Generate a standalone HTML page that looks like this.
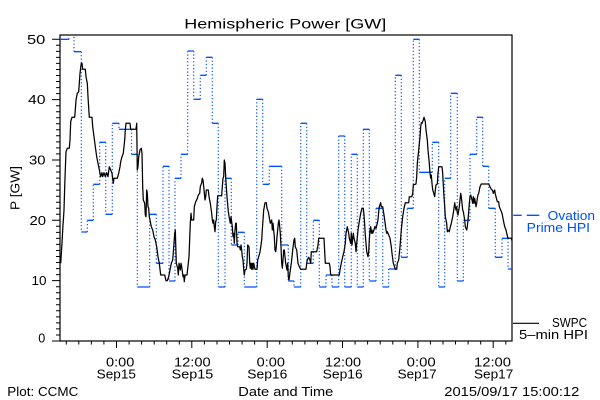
<!DOCTYPE html>
<html>
<head>
<meta charset="utf-8">
<style>
html,body{margin:0;padding:0;background:#fff;}
svg{display:block;}
text{font-family:"Liberation Sans",sans-serif;}
</style>
</head>
<body>
<svg width="600" height="400" viewBox="0 0 600 400" xmlns="http://www.w3.org/2000/svg">
<rect x="0" y="0" width="600" height="400" fill="#fff"/>
<defs>
<clipPath id="pc"><rect x="60" y="35" width="452" height="306"/></clipPath>
</defs>

<!-- Title -->
<text x="184.3" y="28.5" font-size="14" textLength="202" lengthAdjust="spacingAndGlyphs" fill="#000">Hemispheric Power [GW]</text>

<!-- Frame -->
<rect x="60" y="35" width="452" height="306" fill="none" stroke="#000" stroke-width="1.2"/>

<!-- Y ticks -->
<g stroke="#000" stroke-width="1">
<path d="M56 341H60M56 335H60M56 328.9H60M56 322.9H60M56 316.9H60M56 310.8H60M56 304.8H60M56 298.8H60M56 292.7H60M56 286.7H60M52 280.6H60
M56 274.6H60M56 268.6H60M56 262.5H60M56 256.5H60M56 250.5H60M56 244.4H60M56 238.4H60M56 232.4H60M56 226.3H60M52 220.3H60
M56 214.3H60M56 208.2H60M56 202.2H60M56 196.2H60M56 190.1H60M56 184.1H60M56 178.1H60M56 172H60M56 166H60M52 160H60
M56 153.9H60M56 147.9H60M56 141.9H60M56 135.8H60M56 129.8H60M56 123.8H60M56 117.7H60M56 111.7H60M56 105.7H60M52 99.6H60
M56 93.6H60M56 87.6H60M56 81.5H60M56 75.5H60M56 69.5H60M56 63.4H60M56 57.4H60M56 51.4H60M56 45.3H60M52 39.3H60M52 341H60"/>
</g>

<!-- Y labels -->
<g font-size="12.5" fill="#000">
<text x="27" y="43.8" textLength="18.3" lengthAdjust="spacingAndGlyphs">50</text>
<text x="28" y="104.1" textLength="17.5" lengthAdjust="spacingAndGlyphs">40</text>
<text x="29" y="164.5" textLength="16.5" lengthAdjust="spacingAndGlyphs">30</text>
<text x="29.5" y="224.8" textLength="16.5" lengthAdjust="spacingAndGlyphs">20</text>
<text x="31.5" y="285.1" textLength="15" lengthAdjust="spacingAndGlyphs">10</text>
<text x="38.3" y="342.5" textLength="7" lengthAdjust="spacingAndGlyphs">0</text>
</g>
<text transform="translate(19.5,188) rotate(-90)" text-anchor="middle" font-size="12.5" textLength="44" lengthAdjust="spacingAndGlyphs" fill="#000">P [GW]</text>

<!-- X ticks -->
<g stroke="#000" stroke-width="1">
<path d="M66.3 341V344.5M78.8 341V344.5M91.4 341V344.5M103.9 341V344.5M116.5 341V348
M129.1 341V344.5M141.6 341V344.5M154.2 341V344.5M166.7 341V344.5M179.3 341V344.5M191.8 341V348
M204.4 341V344.5M217 341V344.5M229.5 341V344.5M242.1 341V344.5M254.6 341V344.5M267.2 341V348
M279.7 341V344.5M292.3 341V344.5M304.9 341V344.5M317.4 341V344.5M330 341V344.5M342.5 341V348
M355.1 341V344.5M367.6 341V344.5M380.2 341V344.5M392.8 341V344.5M405.3 341V344.5M417.9 341V348
M430.4 341V344.5M443 341V344.5M455.5 341V344.5M468.1 341V344.5M480.7 341V344.5M493.2 341V348
M505.8 341V344.5"/>
</g>

<!-- X labels -->
<g font-size="12.5" fill="#000" lengthAdjust="spacingAndGlyphs">
<text x="106" y="366.7" textLength="28.3" lengthAdjust="spacingAndGlyphs">0:00</text>
<text x="96.7" y="378.5" textLength="39.3" lengthAdjust="spacingAndGlyphs">Sep15</text>
<text x="174" y="366.7" textLength="36.7" lengthAdjust="spacingAndGlyphs">12:00</text>
<text x="171.7" y="378.5" textLength="41.6" lengthAdjust="spacingAndGlyphs">Sep15</text>
<text x="256.7" y="366.7" textLength="28.3" lengthAdjust="spacingAndGlyphs">0:00</text>
<text x="247.3" y="378.5" textLength="40" lengthAdjust="spacingAndGlyphs">Sep16</text>
<text x="325" y="366.7" textLength="36" lengthAdjust="spacingAndGlyphs">12:00</text>
<text x="322.7" y="378.5" textLength="40" lengthAdjust="spacingAndGlyphs">Sep16</text>
<text x="406.7" y="366.7" textLength="29" lengthAdjust="spacingAndGlyphs">0:00</text>
<text x="397.7" y="378.5" textLength="39" lengthAdjust="spacingAndGlyphs">Sep17</text>
<text x="474" y="366.7" textLength="37" lengthAdjust="spacingAndGlyphs">12:00</text>
<text x="474" y="378.5" textLength="39.3" lengthAdjust="spacingAndGlyphs">Sep17</text>
<text x="7.3" y="396" textLength="71" lengthAdjust="spacingAndGlyphs">Plot: CCMC</text>
<text x="238.3" y="396" textLength="95" lengthAdjust="spacingAndGlyphs">Date and Time</text>
<text x="444.3" y="396" textLength="135" lengthAdjust="spacingAndGlyphs">2015/09/17 15:00:12</text>
</g>

<!-- Legend -->
<g stroke="#0050ff" stroke-width="1.3">
<path d="M513.3 215.3H521.7M526.7 215.3H539.3"/>
</g>
<path d="M513 323.3H539" stroke="#000" stroke-width="1.2"/>
<g font-size="12.5">
<text x="547.7" y="220" fill="#0050ff" textLength="47.3" lengthAdjust="spacingAndGlyphs">Ovation</text>
<text x="526.7" y="232" fill="#0050ff" textLength="63.3" lengthAdjust="spacingAndGlyphs">Prime HPI</text>
<text x="552" y="327" fill="#000" textLength="35" lengthAdjust="spacingAndGlyphs">SWPC</text>
<text x="519" y="339" fill="#000" textLength="69" lengthAdjust="spacingAndGlyphs">5–min HPI</text>
</g>

<g clip-path="url(#pc)">
<!-- Ovation horizontals -->
<path fill="none" stroke="#0050ff" stroke-width="1.3" d="M60 39.3H69M69 30H74M74 51.7H81.3M81.3 232H87.3M87.3 220.3H93.3M93.3 184.3H99.7M99.7 142.3H105.7M105.7 214.3H112.3M112.3 123.3H119M119 129.3H131.5M131.5 154.3H137.3M137.3 287H149.7M149.7 214.3H156.3M156.3 263.3H163M163 166.3H169M169 281H175M175 178.3H181M181 154.3H187.7M187.7 51H193.7M193.7 99.3H200.3M200.3 75.3H206.3M206.3 57.3H212.3M212.3 123.3H218.3M218.3 287H225M225 178.3H231.3M231.3 245H238M238 232.3H244.3M244.3 287H256.7M256.7 99.3H262.7M262.7 184.3H269.3M269.3 166.3H281.7M281.7 245H288.3M288.3 281H294M294 287H300.7M300.7 123.3H306.7M306.7 263.3H313.3M313.3 220.3H319.3M319.3 287H326M326 275H332M332 287H338.7M338.7 136H344.7M344.7 287H351.3M351.3 154.3H357.3M357.3 287H363.3M363.3 129.3H369.3M369.3 281H376M376 208.3H382.7M382.7 287H388.7M388.7 269H395.3M395.3 75.3H401.3M401.3 257.3H407.3M407.3 208.3H413.3M413.3 39.3H419.3M419.3 172.3H432.3M432.3 142.3H438.7M438.7 287H444.7M444.7 178.3H450.7M450.7 93.3H457.3M457.3 281H463.3M463.3 220.3H470M470 154.3H476.7M476.7 117.3H482.7M482.7 166.3H488.7M488.7 208.3H495.3M495.3 257.3H502M502 238.3H508M508 269H512"/>
<!-- Ovation dotted verticals -->
<path fill="none" stroke="#0050ff" stroke-width="1.2" stroke-dasharray="1.2 2.2" d="M69 39.3V30M74 30V51.7M81.3 51.7V232M87.3 232V220.3M93.3 220.3V184.3M99.7 184.3V142.3M105.7 142.3V214.3M112.3 214.3V123.3M119 123.3V129.3M131.5 129.3V154.3M137.3 154.3V287M149.7 287V214.3M156.3 214.3V263.3M163 263.3V166.3M169 166.3V281M175 281V178.3M181 178.3V154.3M187.7 154.3V51M193.7 51V99.3M200.3 99.3V75.3M206.3 75.3V57.3M212.3 57.3V123.3M218.3 123.3V287M225 287V178.3M231.3 178.3V245M238 245V232.3M244.3 232.3V287M256.7 287V99.3M262.7 99.3V184.3M269.3 184.3V166.3M281.7 166.3V245M288.3 245V281M294 281V287M300.7 287V123.3M306.7 123.3V263.3M313.3 263.3V220.3M319.3 220.3V287M326 287V275M332 275V287M338.7 287V136M344.7 136V287M351.3 287V154.3M357.3 154.3V287M363.3 287V129.3M369.3 129.3V281M376 281V208.3M382.7 208.3V287M388.7 287V269M395.3 269V75.3M401.3 75.3V257.3M407.3 257.3V208.3M413.3 208.3V39.3M419.3 39.3V172.3M432.3 172.3V142.3M438.7 142.3V287M444.7 287V178.3M450.7 178.3V93.3M457.3 93.3V281M463.3 281V220.3M470 220.3V154.3M476.7 154.3V117.3M482.7 117.3V166.3M488.7 166.3V208.3M495.3 208.3V257.3M502 257.3V238.3M508 238.3V269"/>

<!-- SWPC line -->
<polyline fill="none" stroke="#000" stroke-width="1.25" stroke-linejoin="round" points="
60.7,263.3 61.3,254 62,243.3 62.7,230 64,210 64.7,186.7 65.3,170 66,151.7 67.3,148.3 69.3,148.3 70,140 70.7,121.7 72,117.3 74.7,117.3 75.3,110 76,100 77.3,93.3 78.7,91.7 79.3,83.3 80,73.3 80.7,67.3 81.3,63.3 82,63.3 82.7,69.3 85.3,69.3 86,76.7 87.3,83.3 88,96.7 89.3,117.3 92,117.3 92.7,126.7 94,136.7 95.3,146.7 96.7,156.7 98.7,166.7 100,173.3 100.7,176.7 102,172.7 102.7,176.7 104,172.7 105.3,176.7 106.7,172.7 108,176.7 109.3,166.7 110.7,170 112,173.3 113.3,183.3 114,178.3 117.3,178.3 118.7,173.3 120,166.7 120.7,161.7 122,156.7 123.3,153.3 124.7,140 125.3,130 126,123.3 130,123.3 130.7,129.3 136,129.3 136.7,123.3 137.3,170 138,166.7 138.7,156.7 140,150 141.3,148.3 142,153.3 142.7,186.7 143.3,200 144.7,203.3 145.3,215 146,216.7 146.7,190 147.3,193.3 148,206.7 148.7,208.3 149.3,216.7 150,220 151.3,226.7 152.7,230 154,236.7 155.3,240 156.7,246.7 158,256.7 159.3,263.3 160.7,275 164.7,275 166,280.7 167.3,280.7 168.7,276.7 170,270 171.3,263.3 172.7,260 174,243.3 174.7,233.3 175.3,230
175.7,243.3 176.3,263.3 177.7,268.3 178.3,275 179,263.3 180.3,270 181,263.3 181.7,266.7 183,276.7 183.7,275 184.3,281.7 185,275 187,275 188.3,263.3 189,256.7 189.7,238.3 190.3,223.3 191,213.3 191.7,220 193.7,220 194.3,206.7 195.7,201.7 197,199.3 198.3,195 199.7,193.3 200.3,186.7 201.7,182.7 202.3,178.3 203,180 203.7,186.7 205,200 205.7,196.7 206.3,190 208.3,190 209,196.7 210.3,203.3 211.7,213.3 212.3,220 213,223.3 213.7,220 214.3,226.7 215,231.7 215.7,221.7 216.3,220 217,206.7 217.7,195.7 221.7,195.7 222.3,186.7 223,178.3 223.7,176.7 224.3,160 225,163.3 225.7,176.7 226.3,186.7 227,196.7 228.3,211.7 229.7,220 230.3,223.3 231,216.7 232.3,226.7 233,236.7 233.7,233.3 234.3,243.3 235,230 235.7,223.3 236.3,223.3 237,243.3 237.7,246.7 239.7,246.7 240.3,250 241,245 241.7,250 242.3,256.7 243,260 243.7,269.3 244.3,275 245,270 246.3,269.3 247,263.3 247.7,245 249,246.7 249.7,263.3 250.3,268.3 251,263.3 251.7,269.3 252.3,263.3 253,269.3 253.7,263.3 255,269.3 257,269.3 257.7,260 259.7,253.3 260.3,250 261,245 261.7,240 262.3,230 263,220 263.7,210 264.3,206.7 265,202.7 266.3,202.7 267,208.3 268.3,211.7 269.7,220 270.3,223.3 271.7,220 272.3,230 273,223.3 274.3,236.7 275,250 275.7,251.7 276.3,246.7 277,236.7 277.7,230 278.3,223.3 279,220 279.7,226.7 280.3,233.3 281,246.7 281.7,263.3 282.3,268.3 283,260 283.7,250 284.3,250 285.7,263.3 287,270 287.7,263.3 288.3,276.7 289,280 289.7,275 290.3,270
291.3,263.3 292.7,250 294,240 294.7,238.3 295.3,246.7 296.7,250 298,263.3 299.3,266.7 300.7,269.3 306,269.3 306.7,263.3 307.3,260 308.7,257.3 310,260 310.7,263.3 311.3,251.7 316.7,251.7 318,245 318.7,238.3 324,238.3 324.7,251.7 325.3,263.3 329.3,263.3 330,266.7 330.7,275 339.3,275 340,270 341.3,263.3 342.7,256.7 344,251.7 345.3,243.3 346,233.3 347.3,226.7 348.7,233.3 349.3,238.3 350.7,243.3 351.3,233.3 352,245 352.7,238.3 353.3,233.3 354,238.3 355.3,243.3 356,251.7 356.7,243.3 358,230 359.3,221.7 360.7,213.3 362,208.3 363.3,208.3 364,215 364.7,225 365.3,235 366.7,251.7 368,256.7 368.7,251.7 369.3,240 370,230 370.7,226.7 371.3,233.3 372,230 372.7,233.3 374,230 374.7,226.7 376,228.3 377.3,223.3 378,220 378.7,211.7 379.3,206.7 380.7,202.7 381.3,206.7 382.7,206.7 384,215 384.7,220 386,230 386.7,233.3 387.3,231.7 388.7,235 390,238.3 391.3,246.7 392,253.3 393.3,263.3 394,265 395.3,269.3 396.7,269.3 397.3,263.3 398.7,260 400,246.7
401.3,230 402.7,216.7 404,208.3 405.3,202.7 408.7,202.7 409.3,196.7 411.3,196.7 412,196 412.7,193.3 413.3,185 416,184 416.7,176.7 417.3,163.3 418.7,150 420,136.7 420.7,126.7 421.3,122.7 422,123.3 423.3,120 424,117.3 425.3,121.7 426,130 427.3,140 428,150 429.3,163.3 430,173.3 430.7,178.3 431.3,175 432,183.3 432.7,190 433.3,191.7 434.7,196.7 435.3,190 436,185 437.3,184 438,173.3 438.7,166.7 442,166.7 442.7,173.3 443.3,185 444,196.7 444.7,206.7 445.3,216.7 446.7,223.3 447.3,231.7 448,230 449.3,231.7 450,228.3 451.3,223.3 452.7,216.7 454,208.3 454.7,202.7 455.3,206.7 456,210 456.7,206.7 457.3,212.7 458,215 459.3,206.7 460,200 460.7,193.3 461.3,196.7 462,203.3 462.7,210 463.3,211.7 464.7,220 465.3,226.7 466.7,230 467.3,226.7 468,220 468.7,211.7 469.3,203.3 470,196.7 470.7,195 472,200 472.7,203.3 473.3,196.7 474,203.3 474.7,198.3 476,206.7 476.7,203.3 477.3,198.3 478,195 478.7,193.3 480,186.7 481.3,184 488.7,184 490,186.7 491.3,189.3 492.7,190.7 493.3,193.3 494.7,190 495.3,194 496,196.7 497.3,201.7 498.7,201.7 499.3,206.7 500.7,210 502,213.3 503.3,220 504.7,226.7 506,230 506.7,233.3 508,238.3 511.3,238.3 512,240.7"/>
</g>
</svg>
</body>
</html>
